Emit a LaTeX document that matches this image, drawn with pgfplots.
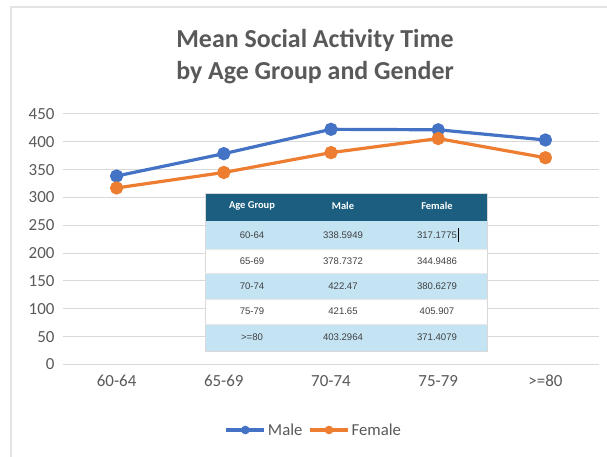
\documentclass[border=0pt]{standalone}
\usepackage{fontspec}
\setmainfont{Carlito}
\newfontfamily\tabfont{Liberation Sans}
\usepackage{pgfplots}
\pgfplotsset{compat=1.18}
\definecolor{male}{HTML}{4472C4}
\definecolor{female}{HTML}{ED7D31}
\definecolor{txt}{HTML}{595959}
\definecolor{grd}{HTML}{D9D9D9}
\definecolor{hdr}{HTML}{1B5E80}
\definecolor{lb}{HTML}{C4E4F4}
\definecolor{cell}{HTML}{404040}
\begin{document}
\begin{tikzpicture}[x=1bp,y=1bp]
\useasboundingbox (0,0) rectangle (607,457);
\fill[white] (0,0) rectangle (607,457);
\draw[grd!70!white, line width=1.2bp] (11,0) -- (11,450) -- (607,450);
\begin{axis}[
  at={(63bp,92.5bp)}, anchor=south west,
  scale only axis, width=536bp, height=272bp-21.5bp,
  xmin=-0.5, xmax=4.5, ymin=0, ymax=450,
  ytick={0,50,...,450},
  xtick={0,1,2,3,4},
  xticklabels={60-64,65-69,70-74,75-79,{>=80}},
  ymajorgrids, grid style={grd, line width=1bp},
  axis line style={draw=none}, tick style={draw=none},
  /pgf/number format/assume math mode=true,
  ticklabel style={font=\fontsize{17}{17}\selectfont, text=txt},
  yticklabel style={xshift=-5bp},
  xticklabel style={yshift=-7bp},
  legend columns=2,
  legend style={draw=none, fill=none, at={(0.468,-0.2615)}, anchor=center,
    font=\fontsize{16.8}{17}\selectfont, text=txt,
    /tikz/every odd column/.append style={column sep=0bp},
    /tikz/every even column/.append style={column sep=4bp},
    /tikz/every node/.append style={inner xsep=2bp}},
  legend image code/.code={\draw[#1, mark size=2.6bp, mark repeat=2, mark phase=2] plot coordinates {(0bp,0bp) (19bp,0bp) (38bp,0bp)};},
  clip=false,
]
\addplot[male, line width=3.2bp, mark=*, mark size=5bp, mark options={fill=male, draw=male}] coordinates {
 (0,338.5949) (1,378.7372) (2,422.47) (3,421.65) (4,403.2964)};
\addlegendentry{Male}
\addplot[female, line width=3.2bp, mark=*, mark size=5bp, mark options={fill=female, draw=female}] coordinates {
 (0,317.1775) (1,344.9486) (2,380.6279) (3,405.907) (4,371.4079)};
\addlegendentry{Female}
\end{axis}
% title
\node[text=txt, font=\fontsize{26}{30}\selectfont\bfseries] at (315,417) {Mean Social Activity Time};
\node[text=txt, font=\fontsize{26}{30}\selectfont\bfseries] at (315,384) {by Age Group and Gender};
% table
\fill[white] (205,106) rectangle (487,264);
\fill[hdr] (205,236) rectangle (487,264);
\fill[lb] (205,208) rectangle (487,236);
\fill[lb] (205,158) rectangle (487,184);
\fill[lb] (205,106) rectangle (487,133);
\draw[grd, line width=0.8bp] (205,106) rectangle (487,264);
\draw[grd!60!white, line width=0.6bp] (205,208) -- (487,208) (205,184) -- (487,184) (205,158) -- (487,158) (205,133) -- (487,133);
\begin{scope}[font=\fontsize{10.5}{11}\selectfont\bfseries, text=white]
\node at (252,251) {Age Group};
\node at (343,251) {Male};
\node at (437,251) {Female};
\end{scope}
\begin{scope}[font=\tabfont\fontsize{9.6}{10}\selectfont, text=cell]
\node at (252,222) {60-64}; \node at (343,222) {338.5949}; \node at (437,222) {317.1775};
\node at (252,196) {65-69}; \node at (343,196) {378.7372}; \node at (437,196) {344.9486};
\node at (252,171) {70-74}; \node at (343,171) {422.47}; \node at (437,171) {380.6279};
\node at (252,145.5) {75-79}; \node at (343,145.5) {421.65}; \node at (437,145.5) {405.907};
\node at (252,119.5) {>=80}; \node at (343,119.5) {403.2964}; \node at (437,119.5) {371.4079};
\end{scope}
\draw[black, line width=0.6bp] (458.5,215) -- (458.5,229);
\end{tikzpicture}
\end{document}
